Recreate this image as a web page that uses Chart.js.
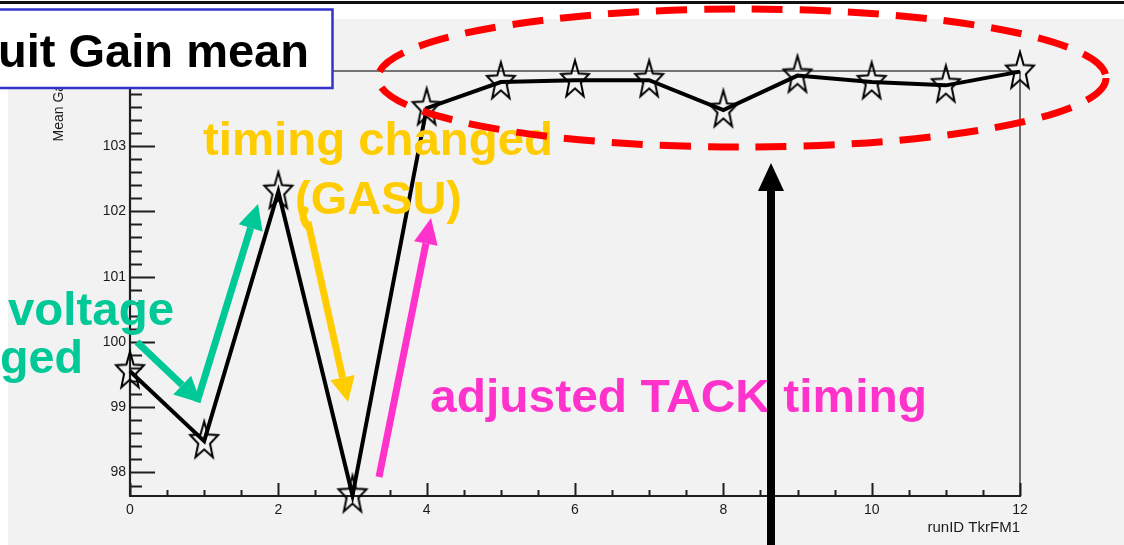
<!DOCTYPE html>
<html>
<head>
<meta charset="utf-8">
<script src="https://cdn.jsdelivr.net/npm/chart.js@4.4.1/dist/chart.umd.min.js"></script>
<style>
  html, body { margin: 0; padding: 0; background: #ffffff; overflow: hidden; }
  #wrap { position: relative; width: 1124px; height: 545px; }
  canvas { display: block; }
</style>
</head>
<body>
<div id="wrap"><canvas id="gainChart" width="1124" height="545"></canvas></div>
<script>
// Mean circuit gain per run
const runIds   = [0, 1, 2, 3, 4, 5, 6, 7, 8, 9, 10, 11, 12];
const meanGain = [99.55, 98.48, 102.30, 97.65, 103.58, 103.98, 104.01, 104.01, 103.55, 104.08, 103.98, 103.93, 104.14];

// Axis ticks and ranges
const xTickValues = [0, 2, 4, 6, 8, 10, 12];
const yTickValues = [98, 99, 100, 101, 102, 103, 104];
const xRange = [0, 12];
const yRange = [97.64, 104.15];

// Texts
const titleText = 'uit Gain mean';
const xTitle = 'runID TkrFM1';
const yTitle = 'Mean Gain';
const noteVoltage = ['voltage', 'ged'];
const noteTiming = ['timing changed', '(GASU)'];
const noteTack = 'adjusted TACK timing';

const COLORS = {
  pad: '#f2f2f2',
  axis: '#1e1e1e',
  frame: '#4a4a4a',
  green: '#00c896',
  orange: '#ffcc00',
  magenta: '#ff33cc',
  red: '#ff0000',
  titleBorder: '#3333cc'
};
const NOTE_FONT = 'bold 47px "Liberation Sans", Arial, sans-serif';
const AXIS_FONT = '"Liberation Sans", Arial, sans-serif';

// Open five-pointed star marker (slightly tall, as drawn by the plotting tool)
function makeStar(rx, ry, lw) {
  const w = Math.ceil(rx * 2 + lw * 2 + 2), h = Math.ceil(ry * 2 + lw * 2 + 2);
  const c = document.createElement('canvas');
  c.width = w; c.height = h;
  const g = c.getContext('2d');
  g.translate(w / 2, h / 2);
  g.beginPath();
  for (let i = 0; i < 10; i++) {
    const r = (i % 2 === 0) ? 1 : 0.42;
    const a = -Math.PI / 2 + i * Math.PI / 5;
    const px = Math.cos(a) * rx * r, py = Math.sin(a) * ry * r;
    if (i === 0) g.moveTo(px, py); else g.lineTo(px, py);
  }
  g.closePath();
  g.strokeStyle = '#000';
  g.lineWidth = lw;
  g.lineJoin = 'miter';
  g.stroke();
  return c;
}
const starMarker = makeStar(14.7, 19.7, 2);

function arrow(ctx, x1, y1, x2, y2, color, width, headLen, headWidth) {
  const ang = Math.atan2(y2 - y1, x2 - x1);
  const bx = x2 - Math.cos(ang) * headLen, by = y2 - Math.sin(ang) * headLen;
  ctx.save();
  ctx.strokeStyle = color;
  ctx.fillStyle = color;
  ctx.lineWidth = width;
  ctx.lineCap = 'butt';
  ctx.beginPath();
  ctx.moveTo(x1, y1);
  ctx.lineTo(bx, by);
  ctx.stroke();
  const nx = -Math.sin(ang) * headWidth / 2, ny = Math.cos(ang) * headWidth / 2;
  ctx.beginPath();
  ctx.moveTo(x2, y2);
  ctx.lineTo(bx + nx, by + ny);
  ctx.lineTo(bx - nx, by - ny);
  ctx.closePath();
  ctx.fill();
  ctx.restore();
}

function fitText(ctx, text, x, baseline, width, font, color) {
  ctx.save();
  ctx.font = font;
  ctx.fillStyle = color;
  ctx.textBaseline = 'alphabetic';
  ctx.textAlign = 'left';
  const w = ctx.measureText(text).width;
  ctx.translate(x, baseline);
  ctx.scale(width / w, 1);
  ctx.fillText(text, 0, 0);
  ctx.restore();
}

// Page background, top rule and the grey pad
const backdrop = {
  id: 'backdrop',
  beforeDraw(chart) {
    const ctx = chart.ctx;
    ctx.save();
    ctx.fillStyle = '#ffffff';
    ctx.fillRect(0, 0, chart.width, chart.height);
    ctx.fillStyle = COLORS.pad;
    ctx.fillRect(8, 19, chart.width - 8, chart.height - 19);
    ctx.fillStyle = '#111';
    ctx.fillRect(0, 1, chart.width, 3);
    ctx.restore();
  }
};

// Frame, axis lines and inward tick marks
const frameTicks = {
  id: 'frameTicks',
  beforeDatasetsDraw(chart) {
    const ctx = chart.ctx, a = chart.chartArea;
    const xs = chart.scales.x, ys = chart.scales.y;
    ctx.save();
    ctx.strokeStyle = COLORS.frame;
    ctx.lineWidth = 1.6;
    ctx.beginPath();
    ctx.moveTo(a.left, a.top); ctx.lineTo(a.right, a.top);
    ctx.moveTo(a.right, a.top); ctx.lineTo(a.right, a.bottom);
    ctx.stroke();

    ctx.strokeStyle = COLORS.axis;
    ctx.lineWidth = 2.2;
    ctx.beginPath();
    ctx.moveTo(a.left, a.top); ctx.lineTo(a.left, a.bottom);
    ctx.moveTo(a.left - 1, a.bottom); ctx.lineTo(a.right + 1, a.bottom);
    ctx.stroke();

    ctx.lineWidth = 2;
    ctx.beginPath();
    // y ticks: major every 1, minor every 0.2
    for (let v = Math.ceil(yRange[0] * 5) / 5; v <= yRange[1] + 1e-9; v += 0.2) {
      const vv = Math.round(v * 5) / 5;
      const major = Math.abs(vv - Math.round(vv)) < 1e-6;
      const py = Math.round(ys.getPixelForValue(vv)) + 0.5;
      ctx.moveTo(a.left, py);
      ctx.lineTo(a.left + (major ? 25 : 12), py);
    }
    // x ticks: major every 2, minor every 0.5
    for (let v = xRange[0]; v <= xRange[1] + 1e-9; v += 0.5) {
      const major = Math.abs(v / 2 - Math.round(v / 2)) < 1e-6;
      const px = Math.round(xs.getPixelForValue(v)) + 0.5;
      ctx.moveTo(px, a.bottom);
      ctx.lineTo(px, a.bottom - (major ? 13 : 6));
    }
    ctx.stroke();

    // axis titles
    ctx.fillStyle = '#1a1a1a';
    ctx.font = '15px ' + AXIS_FONT;
    ctx.textAlign = 'right';
    ctx.textBaseline = 'alphabetic';
    ctx.fillText(xTitle, a.right, 532);
    ctx.save();
    ctx.translate(63, a.top + 2);
    ctx.rotate(-Math.PI / 2);
    ctx.font = '14px ' + AXIS_FONT;
    ctx.textAlign = 'right';
    ctx.fillText(yTitle, 0, 0);
    ctx.restore();
    ctx.restore();
  }
};

// Hand-drawn notes over the plot
const notes = {
  id: 'notes',
  afterDraw(chart) {
    const ctx = chart.ctx;
    // texts
    fitText(ctx, noteVoltage[0], 8, 325, 166, NOTE_FONT, COLORS.green);
    fitText(ctx, noteVoltage[1], 0, 373, 83, NOTE_FONT, COLORS.green);
    fitText(ctx, noteTiming[0], 203, 155, 350, NOTE_FONT, COLORS.orange);
    fitText(ctx, noteTiming[1], 295, 214, 167, NOTE_FONT, COLORS.orange);
    fitText(ctx, noteTack, 430, 412, 497, NOTE_FONT, COLORS.magenta);

    // arrows
    arrow(ctx, 137, 342, 201, 403, COLORS.green, 7, 26, 26);
    arrow(ctx, 197, 402, 258, 204, COLORS.green, 7, 25, 25);
    ctx.save();
    ctx.strokeStyle = COLORS.orange; ctx.lineWidth = 7; ctx.lineCap = 'round';
    ctx.beginPath(); ctx.moveTo(305, 210); ctx.quadraticCurveTo(300, 218, 309, 228); ctx.stroke();
    ctx.restore();
    arrow(ctx, 308, 222, 348, 402, COLORS.orange, 7, 25, 25);
    arrow(ctx, 379, 477, 431, 218, COLORS.magenta, 7, 26, 24);

    // dashed ellipse around the stable runs
    ctx.save();
    ctx.strokeStyle = COLORS.red;
    ctx.lineWidth = 7;
    ctx.setLineDash([31, 17]);
    ctx.beginPath();
    ctx.ellipse(742, 78, 364, 69, 0, 0, Math.PI * 2);
    ctx.stroke();
    ctx.restore();

    // vertical pointer
    arrow(ctx, 771, 548, 771, 163, '#000', 8, 28, 26);

    // title box
    ctx.save();
    ctx.fillStyle = '#ffffff';
    ctx.fillRect(-5, 9, 337, 79);
    ctx.strokeStyle = COLORS.titleBorder;
    ctx.lineWidth = 2.5;
    ctx.strokeRect(-5, 9.5, 337.5, 78.5);
    ctx.restore();
    fitText(ctx, titleText, -2, 67, 311, 'bold 47px "Liberation Sans", Arial, sans-serif', '#000');
  }
};

new Chart(document.getElementById('gainChart'), {
  type: 'line',
  data: {
    datasets: [{
      data: runIds.map((r, i) => ({ x: r, y: meanGain[i] })),
      borderColor: '#000',
      borderWidth: 4,
      tension: 0,
      pointStyle: starMarker,
      pointRadius: 15,
      pointHoverRadius: 15,
      clip: false
    }]
  },
  options: {
    responsive: false,
    animation: false,
    devicePixelRatio: 1,
    events: [],
    layout: { padding: { left: 0, top: 71, right: 104, bottom: 0 } },
    plugins: { legend: { display: false }, tooltip: { enabled: false } },
    scales: {
      x: {
        type: 'linear',
        min: xRange[0], max: xRange[1],
        afterBuildTicks: (s) => { s.ticks = xTickValues.map(v => ({ value: v })); },
        afterFit: (s) => { s.height = 49; },
        grid: { display: false, drawTicks: false },
        border: { display: false },
        ticks: { color: '#1a1a1a', font: { family: AXIS_FONT, size: 14 }, padding: 6, maxRotation: 0, autoSkip: false }
      },
      y: {
        type: 'linear',
        min: yRange[0], max: yRange[1],
        afterBuildTicks: (s) => { s.ticks = yTickValues.map(v => ({ value: v })); },
        afterFit: (s) => { s.width = 130; },
        grid: { display: false, drawTicks: false },
        border: { display: false },
        ticks: { color: '#1a1a1a', font: { family: AXIS_FONT, size: 14 }, padding: 4, autoSkip: false }
      }
    }
  },
  plugins: [backdrop, frameTicks, notes]
});
</script>
</body>
</html>
